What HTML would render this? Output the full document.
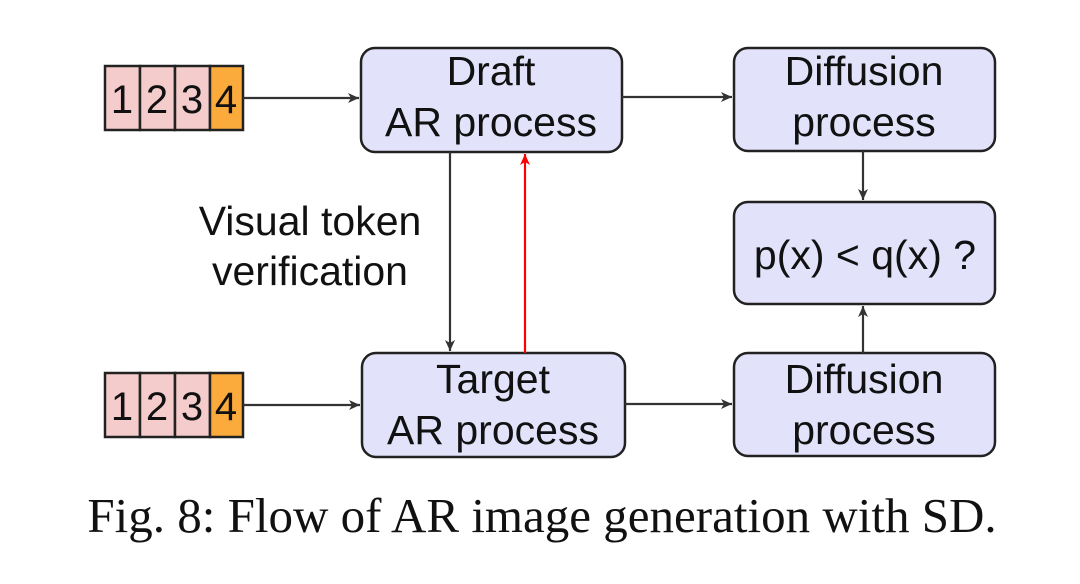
<!DOCTYPE html>
<html><head><style>
body{margin:0;background:#fff;width:1080px;height:579px;overflow:hidden}
svg text{font-family:"Liberation Sans",sans-serif;fill:#111}
</style></head><body>
<svg width="1080" height="579" viewBox="0 0 1080 579">
<defs>
<marker id="a" markerWidth="12" markerHeight="12" refX="11" refY="6" orient="auto" markerUnits="userSpaceOnUse"><path d="M0,1 L11,6 L0,11 L3,6 Z" fill="#333"/></marker>
<marker id="r" markerWidth="12" markerHeight="12" refX="11" refY="6" orient="auto" markerUnits="userSpaceOnUse"><path d="M0,1 L11,6 L0,11 L3,6 Z" fill="#f00"/></marker>
</defs>
<g stroke="#222" stroke-width="2.5">
<rect x="105" y="66" width="35" height="64" fill="#f4cccc"/>
<rect x="140" y="66" width="35" height="64" fill="#f4cccc"/>
<rect x="175" y="66" width="35" height="64" fill="#f4cccc"/>
<rect x="210" y="66" width="33" height="64" fill="#fbab3c"/>
<rect x="105" y="373" width="35" height="64" fill="#f4cccc"/>
<rect x="140" y="373" width="35" height="64" fill="#f4cccc"/>
<rect x="175" y="373" width="35" height="64" fill="#f4cccc"/>
<rect x="210" y="373" width="33" height="64" fill="#fbab3c"/>
<rect x="361" y="48" width="261" height="104" rx="14" fill="#e2e2fb"/>
<rect x="734" y="48" width="261" height="103" rx="14" fill="#e2e2fb"/>
<rect x="734" y="202" width="261" height="102" rx="14" fill="#e2e2fb"/>
<rect x="734" y="353" width="261" height="103" rx="14" fill="#e2e2fb"/>
<rect x="362" y="353" width="263" height="104" rx="14" fill="#e2e2fb"/>
</g>
<g stroke="#333" stroke-width="2.2" fill="none" marker-end="url(#a)">
<line x1="243" y1="98" x2="359" y2="98"/>
<line x1="243" y1="405" x2="360" y2="405"/>
<line x1="622" y1="97" x2="732" y2="97"/>
<line x1="625" y1="404" x2="732" y2="404"/>
<line x1="450" y1="152" x2="450" y2="351"/>
<line x1="863" y1="151" x2="863" y2="200"/>
<line x1="863" y1="353" x2="863" y2="306"/>
</g>
<line x1="525" y1="353" x2="525" y2="154" stroke="#f00" stroke-width="2.2" marker-end="url(#r)"/>
<g font-size="40" text-anchor="middle" font-family="DejaVu Sans,sans-serif" style="font-weight:300">
<text x="122" y="113">1</text><text x="157" y="113">2</text><text x="192" y="113">3</text><text x="226" y="113">4</text>
<text x="122" y="420">1</text><text x="157" y="420">2</text><text x="192" y="420">3</text><text x="226" y="420">4</text>
</g>
<g font-size="41" text-anchor="middle">
<text x="491" y="85">Draft</text><text x="491" y="136">AR process</text>
<text x="864" y="85">Diffusion</text><text x="864" y="136">process</text>
<text x="865" y="269">p(x) &lt; q(x) ?</text>
<text x="864" y="393">Diffusion</text><text x="864" y="444">process</text>
<text x="493" y="393">Target</text><text x="493" y="444">AR process</text>
<text x="310" y="235">Visual token</text><text x="310" y="285">verification</text>
</g>
<text x="542" y="532" text-anchor="middle" font-size="49" style="font-family:'Liberation Serif',serif">Fig. 8: Flow of AR image generation with SD.</text>
</svg>
</body></html>
